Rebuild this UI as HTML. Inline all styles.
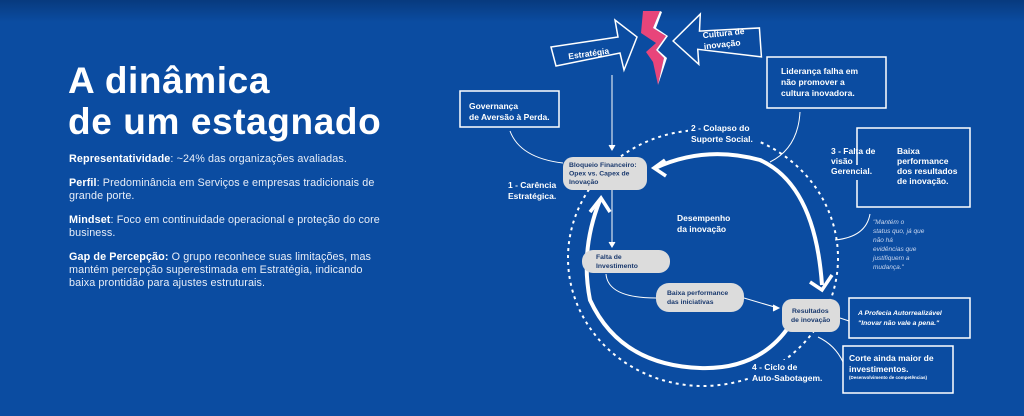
<!DOCTYPE html>
<html><head><meta charset="utf-8"><style>
html,body{margin:0;padding:0}
body{width:1024px;height:416px;overflow:hidden;background:#0b4ca1;font-family:"Liberation Sans",sans-serif;position:relative}
.top{position:absolute;left:0;top:0;width:1024px;height:22px;background:linear-gradient(#083a7e,#0b4ca1)}
h1{position:absolute;left:68px;top:60px;margin:0;color:#fff;font-size:37px;line-height:41px;font-weight:bold;letter-spacing:0.6px}
.p{position:absolute;left:69px;color:#e8eef8;font-size:10.8px;line-height:13px;width:322px;letter-spacing:0.1px}
.p b{color:#fff}
</style></head><body>
<div class="top"></div>
<h1>A dinâmica<br>de um estagnado</h1>
<div class="p" style="top:153px"><b>Representatividade</b>: ~24% das organizações avaliadas.</div>
<div class="p" style="top:177px"><b>Perfil</b>: Predominância em Serviços e empresas tradicionais de grande porte.</div>
<div class="p" style="top:214px"><b>Mindset</b>: Foco em continuidade operacional e proteção do core business.</div>
<div class="p" style="top:251px"><b>Gap de Percepção:</b> O grupo reconhece suas limitações, mas mantém percepção superestimada em Estratégia, indicando baixa prontidão para ajustes estruturais.</div>
<svg width="1024" height="416" style="position:absolute;left:0;top:0" font-family="Liberation Sans, sans-serif">
<g fill="none" stroke="#fff">
<ellipse cx="703" cy="258" rx="135" ry="128" stroke-width="2" stroke-dasharray="3,4"/>
</g>
<g fill="#0b4ca1">
<rect x="688" y="122" width="70" height="24"/>
<rect x="748" y="360" width="78" height="24"/>
</g>
<g fill="none" stroke="#fff">
<path d="M655 168 Q705 145 760 160 Q815 185 822 285" stroke-width="4"/>
<path d="M810 282 L822 290 L832 275" stroke-width="3.5"/>
<path d="M790 325 Q760 370 700 368 Q620 365 590 300 Q580 250 600 200" stroke-width="4"/>
<path d="M590 212 L601 198 L610 212" stroke-width="3.5"/>
<path d="M665 160 L654 168 L666 176" stroke-width="3.5"/>
<rect x="460" y="91" width="99" height="36" stroke-width="1.5"/>
<rect x="767" y="57" width="119" height="51" stroke-width="1.5"/>
<path d="M857 165 V128 H970 V207 H857 V180" stroke-width="1.5"/>
<rect x="849" y="298" width="121" height="40" stroke-width="1.5"/>
<rect x="843" y="346" width="110" height="47" stroke-width="1.5"/>
<path d="M510 131 Q520 158 563 163" stroke-width="1"/>
<path d="M612 75 V148" stroke-width="1"/>
<path d="M609 145 L612 150 L615 145" fill="#fff" stroke-width="1"/>
<path d="M800 112 Q798 148 770 162" stroke-width="1"/>
<path d="M870 214 Q866 237 835 240" stroke-width="1"/>
<path d="M612 190 V245" stroke-width="1"/>
<path d="M609 242 L612 247 L615 242" fill="#fff" stroke-width="1"/>
<path d="M606 274 Q608 298 656 298" stroke-width="1"/>
<path d="M744 298 L778 308" stroke-width="1"/>
<path d="M773 305 L779 308 L773 311" fill="#fff" stroke-width="1"/>
<path d="M840 318 L849 321" stroke-width="1"/>
<path d="M818 337 Q835 345 843 362" stroke-width="1"/>
<path d="M551 47 L618 37 L615 20 L637 37 L624 70 L620 53 L556 66 Z" stroke-width="1.5"/>
<path d="M760 60 L760 31 L700 30 L702 13 L673 38 L697 63 L697 48 Z" stroke-width="1.5" transform="rotate(-4 716 38)"/>
</g>
<path d="M643 11 L660 11 L653 28 L666 36 L656 50 L664 58 L658 85 L653 62 L646 52 L656 43 L641 33 Z" fill="#e8457a"/>
<path d="M660 11 L662 12 L656 28 L668 36 L658 50 L667 58 L658 85 L664 58 L656 50 L666 36 L653 28 Z" fill="#fff"/>
<g fill="#dcdcdc">
<rect x="563" y="157" width="84" height="33" rx="10"/>
<rect x="582" y="250" width="88" height="23" rx="11"/>
<rect x="656" y="283" width="88" height="29" rx="13"/>
<rect x="782" y="299" width="58" height="33" rx="10"/>
</g>
<g fill="#1b3a6e" font-size="6.8" font-weight="bold">
<text x="569" y="167">Bloqueio Financeiro:</text><text x="569" y="175.5">Opex vs. Capex de</text><text x="569" y="184">Inovação</text>
<text x="596" y="259">Falta de</text><text x="596" y="268">Investimento</text>
<text x="667" y="295">Baixa performance</text><text x="667" y="304">das iniciativas</text>
<text x="792" y="313">Resultados</text><text x="791" y="322">de inovação</text>
</g>
<g fill="#fff" font-weight="bold" font-size="8.5">
<text x="568" y="57" transform="rotate(-8 585 53)">Estratégia</text>
<text x="703" y="37" transform="rotate(-6 715 38)">Cultura de</text><text x="703" y="48" transform="rotate(-6 715 38)">inovação</text>
<text x="469" y="109">Governança</text><text x="469" y="120">de Aversão à Perda.</text>
<text x="781" y="74">Liderança falha em</text><text x="781" y="85">não promover a</text><text x="781" y="96">cultura inovadora.</text>
<text x="691" y="131">2 - Colapso do</text><text x="691" y="142">Suporte Social.</text>
<text x="831" y="154">3 - Falta de</text><text x="831" y="164">visão</text><text x="831" y="174">Gerencial.</text>
<text x="897" y="154">Baixa</text><text x="897" y="164">performance</text><text x="897" y="174">dos resultados</text><text x="897" y="184">de inovação.</text>
<text x="508" y="188">1 - Carência</text><text x="508" y="199">Estratégica.</text>
<text x="677" y="221">Desempenho</text><text x="677" y="232">da inovação</text>
<text x="752" y="370">4 - Ciclo de</text><text x="752" y="381">Auto-Sabotagem.</text>
<text x="849" y="361">Corte ainda maior de</text><text x="849" y="372">investimentos.</text>
</g>
<text x="849" y="379" fill="#fff" font-size="4.5" font-weight="bold">(Desenvolvimento de competências)</text>
<g fill="#fff" font-size="6.8" font-weight="bold" font-style="italic">
<text x="858" y="315">A Profecia Autorrealizável</text><text x="858" y="325">"Inovar não vale a pena."</text>
</g>
<g fill="#c9d6ee" font-size="6.5" font-style="italic">
<text x="873" y="224">"Mantém o</text><text x="873" y="233">status quo, já que</text><text x="873" y="242">não há</text><text x="873" y="251">evidências que</text><text x="873" y="260">justifiquem a</text><text x="873" y="269">mudança."</text>
</g>
</svg>
</body></html>
